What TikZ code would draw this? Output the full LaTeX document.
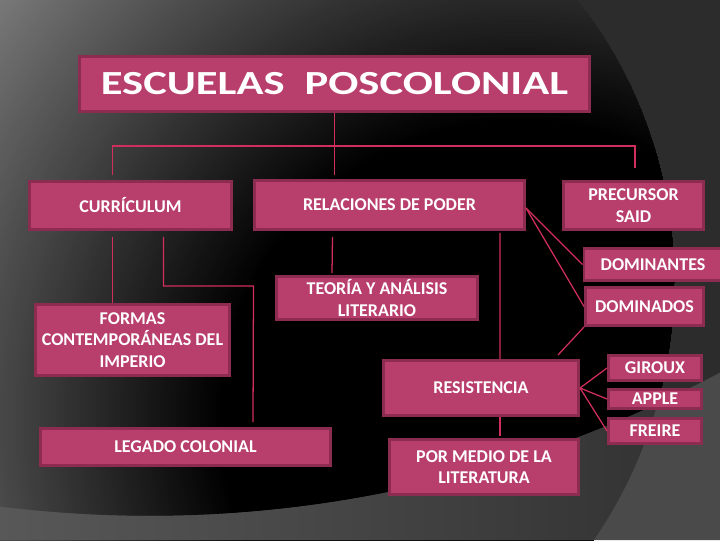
\documentclass[tikz,border=0pt]{standalone}
\usepackage{fontspec}
\setmainfont{Carlito}
\newfontfamily\titlefont[FakeStretch=1.32]{Carlito}
\usepackage{tikz}
\usetikzlibrary{calc}

\begin{document}
\begin{tikzpicture}[x=0.025cm,y=-0.025cm,
  box/.style={draw=boxedge,fill=boxfill,line width=2.1pt,text=white,align=center,inner sep=0pt,
    font=\bfseries\fontsize{12.8}{15.2}\selectfont},
  dims/.style 2 args={minimum width=#1*0.025cm,minimum height=#2*0.025cm},
  link/.style={draw=linkred,line width=0.9pt}]
\definecolor{bgdark}{HTML}{2C2C2C}
\definecolor{glowgray}{HTML}{787878}
\definecolor{bandgray}{HTML}{4A4A4A}
\definecolor{bandleft}{HTML}{585858}
\definecolor{bandright}{HTML}{303030}
\definecolor{boxfill}{HTML}{B83E6B}
\definecolor{boxedge}{HTML}{8C2C50}
\definecolor{linkred}{HTML}{D02E5C}
\useasboundingbox (0,0) rectangle (720,540);
\clip (0,0) rectangle (720,540);

% Background: dark disc and lower band
\fill[bgdark] (0,0) rectangle (720,540);
\begin{scope}
  \clip (216,281) circle (458);
  \foreach \k in {0,...,115} {
    \pgfmathsetmacro\rad{760-4*\k}
    \pgfmathsetmacro\pct{min(100,max(0,(\rad-300)/3.7))}
    \fill[glowgray!\pct!black] (520,420) circle (\rad);
  }
  \fill[black] (520,420) circle (300);
\end{scope}
\fill[bandgray] (0,506.6) .. controls (248,537.7) and (500,490.9) .. (720,372.5) -- (720,540) -- (0,540) -- cycle;
\begin{scope}
  \clip (216,281) circle (458);
  \shade[left color=bandleft,right color=bandright] (0,506.6) .. controls (248,537.7) and (500,490.9) .. (720,372.5) -- (720,540) -- (0,540) -- cycle;
\end{scope}

% Title
\node[box,dims={510}{55},font=\titlefont\bfseries\fontsize{24}{28}\selectfont] (title) at (334.5,84) {ESCUELAS\ \ POSCOLONIAL};

% First level
\node[box,dims={202}{48}] (curr) at (130.5,205.5) {CURRÍCULUM};
\node[box,dims={270}{49}] (rel) at (389.5,205) {RELACIONES DE PODER};
\node[box,dims={140}{48}] (prec) at (633.5,205.5) {PRECURSOR\\SAID};

% Under curriculum
\node[box,dims={194}{71}] (formas) at (132.5,340) {FORMAS\\CONTEMPORÁNEAS DEL\\IMPERIO};
\node[box,dims={290}{37}] (legado) at (185.5,447) {LEGADO COLONIAL};

% Under relaciones de poder
\node[box,dims={201}{43}] (teoria) at (377,298) {TEORÍA Y ANÁLISIS\\LITERARIO};
\node[box,dims={138}{32}] (domt) at (653,264.5) {DOMINANTES};
\node[box,dims={118}{38}] (domd) at (644.5,306.5) {DOMINADOS};
\node[box,dims={195}{55}] (resist) at (481,388) {RESISTENCIA};
\node[box,dims={189}{55}] (medio) at (484,467) {POR MEDIO DE LA\\LITERATURA};

% Authors
\node[box,dims={93}{25}] (giroux) at (655,368) {GIROUX};
\node[box,dims={93}{19}] (apple) at (655,399) {APPLE};
\node[box,dims={93}{25}] (freire) at (655,431) {FREIRE};

% Connectors from the title
\coordinate (split) at ($(title.south)+(0,33)$);
\draw[link] (title.south) -- ($(title.south |- rel.north)+(0,-4)$);
\draw[link] ($(curr.north)+(-18,-5)$) |- (split) -| ($(prec.north)+(1.5,-12)$);

% Curriculum branches
\draw[link] ($(curr.south)+(-18,6)$) -- ($(formas.north)+(-20,0)$);
\draw[link] ($(curr.south)+(33,6)$) |- ++(90,49) -- ($(legado.north)+(67.5,-5)$);

% Relaciones de poder branches
\draw[link] ($(rel.south)+(-57,6)$) -- ($(teoria.north)+(-45,-2)$);
\draw[link] ($(rel.south)+(110.5,2)$) -- ($(resist.north)+(19,0)$);
\draw[link] ($(resist.south)+(19,0)$) -- ($(medio.north)+(16,-2)$);
\draw[link] ($(rel.east)+(0,3)$) -- (domt.west);
\draw[link] ($(rel.east)+(0,3)$) -- (domd.west);
\draw[link] (domd.south west) -- ($(resist.north east)+(-22,-4)$);

% Resistencia authors
\draw[link] (resist.east) -- (giroux.west);
\draw[link] (resist.east) -- (apple.west);
\draw[link] (resist.east) -- (freire.west);
\end{tikzpicture}
\end{document}
